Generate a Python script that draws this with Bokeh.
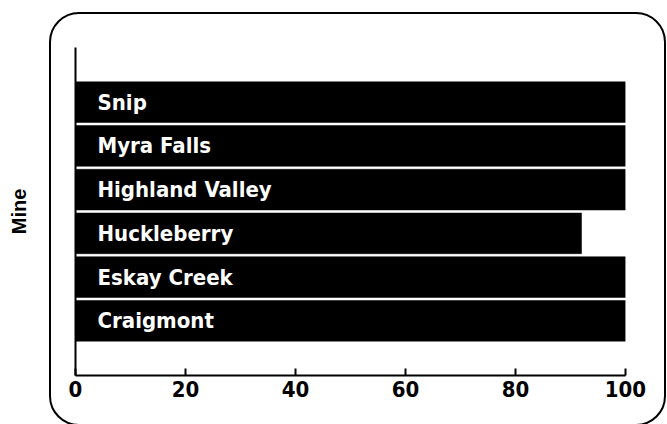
from bokeh.plotting import figure
from bokeh.models import ColumnDataSource, FixedTicker, Range1d, InlineStyleSheet
from bokeh.core.properties import value
from bokeh.embed import file_html
from bokeh.resources import INLINE

# Data (bottom to top)
mines = ["Craigmont", "Eskay Creek", "Huckleberry", "Highland Valley", "Myra Falls", "Snip"]
values = [100, 100, 92, 100, 100, 100]
x_ticks = [0, 20, 40, 60, 80, 100]

positions = list(range(len(mines)))
src = ColumnDataSource(dict(pos=positions, val=values, mine=mines))

FONT = "DejaVu Sans Condensed"

p = figure(width=667, height=424, output_backend="svg", toolbar_location=None,
           x_range=Range1d(0, 100), y_range=Range1d(-1.25, len(mines) + 0.25),
           min_border_left=75, min_border_right=42, min_border_top=47, min_border_bottom=49)
p.outline_line_color = None
p.xgrid.visible = False
p.ygrid.visible = False
p.background_fill_color = "white"
p.border_fill_color = "white"

p.hbar(y="pos", left=0, right="val", height=0.93, source=src,
       fill_color="black", line_color="black", line_width=0.5)
p.text(x=4, y="pos", text="mine", source=src, text_color="white",
       text_font=value(FONT), text_font_style="bold", text_font_size="22px",
       text_baseline="middle", text_align="left")

# x axis
xa = p.xaxis[0]
xa.ticker = FixedTicker(ticks=x_ticks)
xa.axis_line_width = 2
xa.axis_line_color = "black"
xa.major_tick_in = 7
xa.major_tick_out = 0
xa.major_tick_line_width = 2
xa.minor_tick_line_color = None
xa.major_label_text_font = FONT
xa.major_label_text_font_style = "bold"
xa.major_label_text_font_size = "22px"
xa.major_label_text_color = "black"
xa.major_label_standoff = 5

# y axis
ya = p.yaxis[0]
ya.ticker = FixedTicker(ticks=[])
ya.axis_line_width = 2
ya.axis_line_color = "black"
ya.major_tick_line_color = None
ya.minor_tick_line_color = None
ya.major_label_text_font_size = "0px"
ya.axis_label = "Mine"
ya.axis_label_text_font = "Liberation Sans"
ya.axis_label_text_font_style = "bold"
ya.axis_label_text_font_size = "20px"
ya.axis_label_text_color = "black"
ya.axis_label_standoff = 46

# rounded frame around the plot body (decoration)
p.stylesheets = [InlineStyleSheet(css="""
:host::after {
  content: '';
  position: absolute;
  left: 49px; top: 12px; width: 617px; height: 414px;
  border: 2px solid black; border-radius: 30px;
  box-sizing: border-box; pointer-events: none;
}
""")]

open("out.html", "w").write(file_html(p, INLINE))
